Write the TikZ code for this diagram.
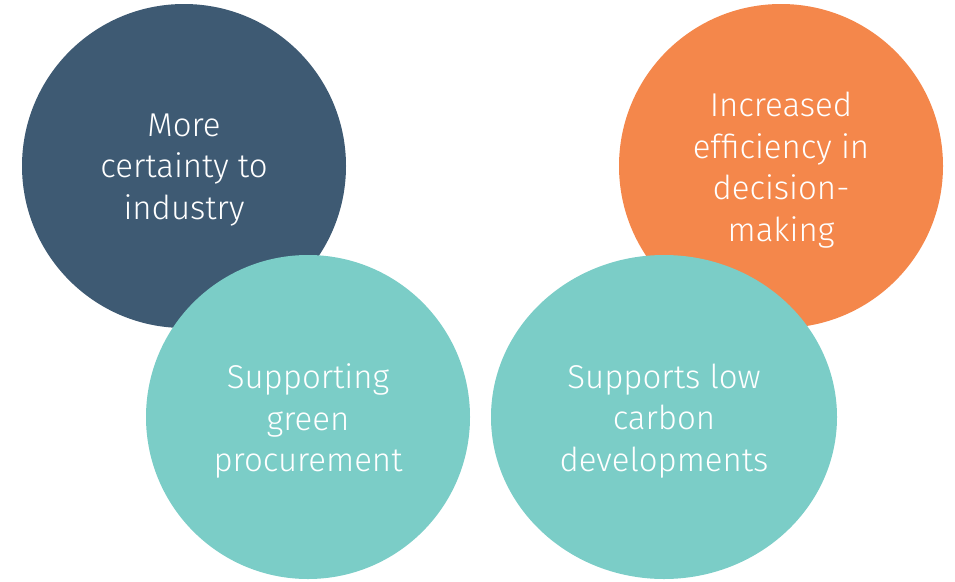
\documentclass[tikz,border=0pt]{standalone}
\usepackage{fontspec}
\setmainfont{Fira Sans}[UprightFont={* Light}]
\usetikzlibrary{shapes.geometric}
\definecolor{navy}{HTML}{3E5A73}
\definecolor{teal}{HTML}{7BCDC7}
\definecolor{orng}{HTML}{F4874B}
\begin{document}
\begin{tikzpicture}[x=1pt,y=-1pt,
  blob/.style={ellipse,inner sep=0pt,draw=none},
  lbl/.style={inner sep=0pt,text=white,align=center,yshift=-4pt,
    font=\fontsize{33}{41.5}\selectfont}]
\useasboundingbox (0,0) rectangle (955,581);
\node[blob,fill=navy,minimum width=324,minimum height=324] (c1) at (184,166) {};
\node[lbl] (t1) at (c1.center) {More\\certainty to\\industry};
\node[blob,fill=orng,minimum width=324,minimum height=324] (c3) at (781,166) {};
\node[lbl] (t3) at (c3.center) {Increased\\efficiency in\\decision-\\making};
\node[blob,fill=teal,minimum width=324,minimum height=324] (c2) at (308,417) {};
\node[lbl] (t2) at (c2.center) {Supporting\\green\\procurement};
\node[blob,fill=teal,minimum width=346,minimum height=324] (c4) at (664,417) {};
\node[lbl] (t4) at (c4.center) {Supports low\\carbon\\developments};
\end{tikzpicture}
\end{document}
